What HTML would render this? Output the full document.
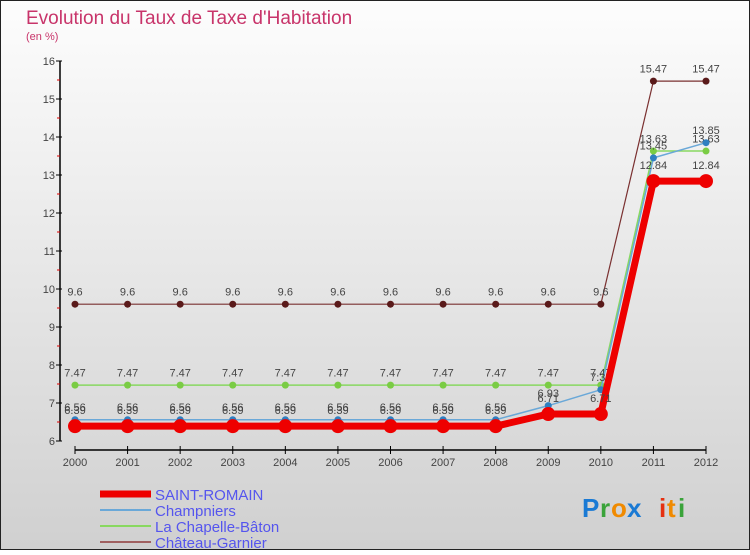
<!DOCTYPE html>
<html><head><meta charset="utf-8"><style>
html,body{margin:0;padding:0}
body{width:750px;height:550px;overflow:hidden;font-family:"Liberation Sans",sans-serif}
</style></head><body>
<svg id="chart" width="750" height="550" xmlns="http://www.w3.org/2000/svg">
<defs><linearGradient id="bg" x1="0" y1="0" x2="0" y2="1"><stop offset="0" stop-color="#fdfdfd"/><stop offset="1" stop-color="#d0d0d0"/></linearGradient></defs>
<rect x="0.5" y="0.5" width="749" height="549" fill="url(#bg)" stroke="#222"/>
<text x="26" y="24" font-size="19" fill="#c8346a">Evolution du Taux de Taxe d'Habitation</text>
<text x="26" y="40" font-size="11" fill="#c8346a">(en %)</text>
<g id="axes"></g><g id="series"></g><g id="legend"></g>
<g font-size="26" font-weight="bold">
<text x="582" y="517" fill="#1a7ad4">P</text><text x="600" y="517" fill="#3aa33a">r</text><text x="611" y="517" fill="#f08a00">o</text><text x="627" y="517" fill="#1a7ad4">x</text><text x="659" y="517" fill="#e53010">i</text><text x="667" y="517" fill="#f08a00">t</text><text x="678" y="517" fill="#3aa33a">i</text>
</g>
</svg>
<script>
const years=[2000,2001,2002,2003,2004,2005,2006,2007,2008,2009,2010,2011,2012];
const yTicks=[6,7,8,9,10,11,12,13,14,15,16];
const saintRomain=[6.39,6.39,6.39,6.39,6.39,6.39,6.39,6.39,6.39,6.71,6.71,12.84,12.84];
const champniers=[6.56,6.56,6.56,6.56,6.56,6.56,6.56,6.56,6.56,6.93,7.35,13.45,13.85];
const chapelle=[7.47,7.47,7.47,7.47,7.47,7.47,7.47,7.47,7.47,7.47,7.47,13.63,13.63];
const chateau=[9.6,9.6,9.6,9.6,9.6,9.6,9.6,9.6,9.6,9.6,9.6,15.47,15.47];
const NS="http://www.w3.org/2000/svg";
const X=i=>75+i*(706-75)/(years.length-1);
const Y=v=>441-(v-6)*38;
function mk(p,t,a){const e=document.createElementNS(NS,t);for(const k in a)e.setAttribute(k,a[k]);p.appendChild(e);return e;}
const ax=document.getElementById('axes');
let l=mk(ax,'line',{x1:60,y1:Y(16),x2:60,y2:Y(6),stroke:'#000','stroke-width':1.5});


yTicks.forEach(v=>{
 mk(ax,'line',{x1:56,x2:62,y1:Y(v),y2:Y(v),stroke:'#000'});
 if(v<16) mk(ax,'line',{x1:57,x2:60,y1:Y(v+0.5),y2:Y(v+0.5),stroke:'#d00'});
 const t=mk(ax,'text',{x:55,y:Y(v)+4,'text-anchor':'end','font-size':11,fill:'#444'});t.textContent=v;
 
 
});
l=mk(ax,'line',{x1:75,y1:450,x2:706,y2:450,stroke:'#000','stroke-width':1.5});


years.forEach((y,i)=>{
 mk(ax,'line',{x1:X(i),x2:X(i),y1:446,y2:454,stroke:'#000'});
 const t=mk(ax,'text',{x:X(i),y:466,'text-anchor':'middle','font-size':11,fill:'#444'});t.textContent=y;
 
 
});
const sg=document.getElementById('series');
function draw(name,vals,color,w,r,dot){
 const g=mk(sg,'g',{});
 
 
 mk(g,'polyline',{points:vals.map((v,i)=>X(i)+','+Y(v)).join(' '),fill:'none',stroke:color,'stroke-width':w,'stroke-linejoin':'round'});
 vals.forEach((v,i)=>{
  const c=mk(g,'circle',{cx:X(i),cy:Y(v),r:r,fill:dot});
  
  
  const t=mk(g,'text',{x:X(i),y:Y(v)-(r+5),'text-anchor':'middle','font-size':11,fill:'#444'});t.textContent=v;
  
  
 });
}
draw('chateau-garnier-series',chateau,'#7a3030',1.2,3.5,'#5a1a1a');
draw('chapelle-baton-series',chapelle,'#88d860',1.5,3.5,'#7acc44');
draw('champniers-series',champniers,'#6aa8d8',1.5,3.5,'#2f7fc0');
draw('saint-romain-series',saintRomain,'#ee0000',7,7,'#ee0000');
const lg=document.getElementById('legend');
[['SAINT-ROMAIN','#ee0000',7],['Champniers','#6aa8d8',2],['La Chapelle-Bâton','#88d860',2],['Château-Garnier','#a06060',2]].forEach((d,i)=>{
 const y=492+i*16;
 const g=mk(lg,'g',{});
 
 
 mk(g,'line',{x1:100,x2:151,y1:y+2,y2:y+2,stroke:d[1],'stroke-width':d[2]});
 const t=mk(g,'text',{x:155,y:y+8,'font-size':15,fill:'#5555ee'});t.textContent=d[0];
});
</script>
</body></html>
